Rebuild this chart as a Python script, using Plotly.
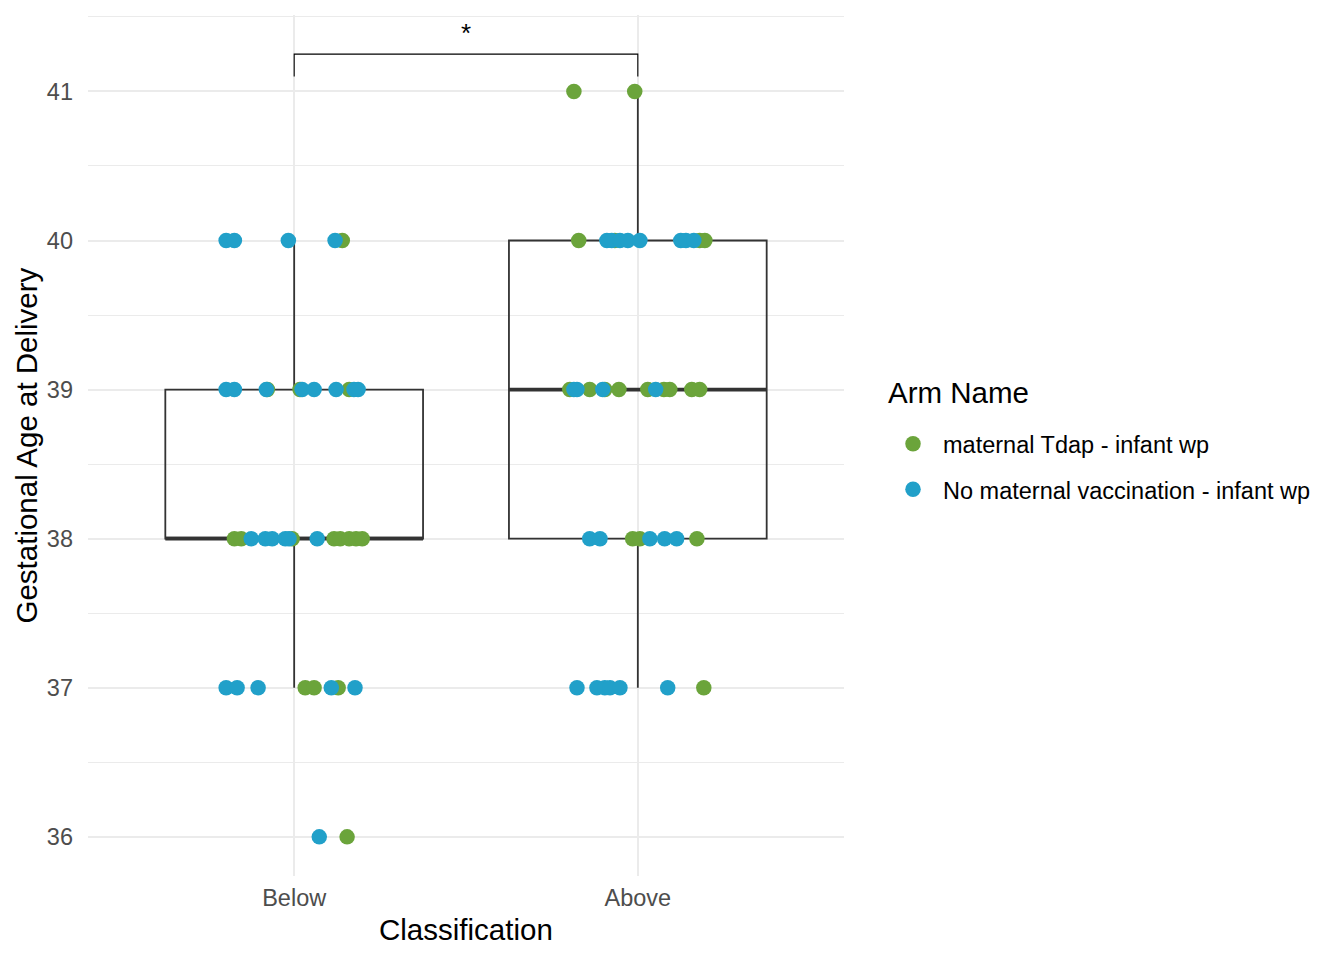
import plotly.graph_objects as go

categories = ["Below", "Above"]
arm_names = ["maternal Tdap - infant wp", "No maternal vaccination - infant wp"]
arm_colors = ["#6BA43B", "#21A0C9"]

# Jittered points: (category index, gestational age, horizontal jitter)
tdap_cat = [0]*1 + [0]*3 + [0]*8 + [0]*3 + [0]*1 + [1]*2 + [1]*4 + [1]*9 + [1]*3 + [1]*1
tdap_age = ([40] + [39]*3 + [38]*8 + [37]*3 + [36] +
            [41]*2 + [40]*4 + [39]*9 + [38]*3 + [37])
tdap_jit = [0.140,
            -0.078, 0.017, 0.160,
            -0.174, -0.154, -0.006, 0.116, 0.134, 0.160, 0.180, 0.198,
            0.032, 0.058, 0.128,
            0.154,
            -0.186, -0.009,
            -0.172, -0.067, 0.180, 0.195,
            -0.198, -0.140, -0.096, -0.055, 0.029, 0.076, 0.093, 0.157, 0.180,
            -0.015, 0.006, 0.172,
            0.192]

novac_cat = [0]*4 + [0]*8 + [0]*6 + [0]*5 + [0]*1 + [1]*8 + [1]*4 + [1]*5 + [1]*6
novac_age = ([40]*4 + [39]*8 + [38]*6 + [37]*5 + [36] +
             [40]*8 + [39]*4 + [38]*5 + [37]*6)
novac_jit = [-0.198, -0.174, -0.017, 0.119,
             -0.198, -0.174, -0.081, 0.023, 0.058, 0.122, 0.174, 0.186,
             -0.125, -0.084, -0.064, -0.026, -0.015, 0.067,
             -0.198, -0.166, -0.105, 0.108, 0.177,
             0.073,
             -0.090, -0.076, -0.052, -0.029, 0.006, 0.125, 0.140, 0.163,
             -0.186, -0.177, -0.102, 0.052,
             -0.140, -0.110, 0.035, 0.078, 0.113,
             -0.177, -0.119, -0.096, -0.081, -0.052, 0.087]

# Box statistics per category
box_q1 = [38, 38]
box_median = [38, 39]
box_q3 = [39, 40]
box_lower = [37, 37]
box_upper = [40, 41]

# Significance bracket
sig_label = "*"
sig_y = 41.25
sig_tip = 41.1

BOX_W = 0.75
FONT = "Liberation Sans, Arial, sans-serif"

fig = go.Figure()

for i in range(len(categories)):
    fig.add_trace(go.Box(
        x=[i], q1=[box_q1[i]], median=[box_median[i]], q3=[box_q3[i]],
        lowerfence=[box_lower[i]], upperfence=[box_upper[i]],
        width=BOX_W, whiskerwidth=0, boxpoints=False,
        fillcolor="rgba(255,255,255,0)",
        line=dict(color="#333333", width=1.8),
        showlegend=False, hoverinfo="skip"))
    fig.add_trace(go.Scatter(
        x=[i - BOX_W/2, i + BOX_W/2], y=[box_median[i]]*2,
        mode="lines", line=dict(color="#333333", width=3.8),
        showlegend=False, hoverinfo="skip"))

for k, (cats, ages, jit, name, color) in enumerate([
        (tdap_cat, tdap_age, tdap_jit, arm_names[0], arm_colors[0]),
        (novac_cat, novac_age, novac_jit, arm_names[1], arm_colors[1])]):
    fig.add_trace(go.Scatter(
        x=[c + j for c, j in zip(cats, jit)], y=ages,
        mode="markers", name=name, legendgroup=f"g{k}",
        marker=dict(color=color, size=15.5, line=dict(width=0))))

fig.add_trace(go.Scatter(
    x=[0, 0, 1, 1], y=[sig_tip, sig_y, sig_y, sig_tip],
    mode="lines", line=dict(color="black", width=1.1),
    showlegend=False, hoverinfo="skip"))
fig.add_annotation(x=0.5, y=sig_y, text=sig_label, showarrow=False,
                   yanchor="bottom", yshift=4,
                   font=dict(size=26, color="black", family=FONT))

# axis titles and legend title
fig.add_annotation(xref="paper", yref="paper", x=0.5, y=-0.0627, yanchor="middle",
                   text="Classification", showarrow=False,
                   font=dict(size=29.5, color="black", family=FONT))
fig.add_annotation(xref="paper", yref="paper", x=-0.0807, xanchor="center",
                   y=0.5, yanchor="middle", textangle=-90,
                   text="Gestational Age at Delivery", showarrow=False,
                   font=dict(size=29.5, color="black", family=FONT))
fig.add_annotation(xref="paper", yref="paper", x=1.0555, xanchor="left",
                   y=0.5610, yanchor="middle",
                   text="Arm Name", showarrow=False,
                   font=dict(size=29.5, color="black", family=FONT))

fig.update_layout(
    width=1336, height=952,
    plot_bgcolor="white", paper_bgcolor="white",
    margin=dict(l=80, r=500, t=7, b=84, autoexpand=False),
    font=dict(family=FONT),
    legend=dict(
        font=dict(size=23.5, color="black"),
        x=1.0516, xanchor="left", y=0.475, yanchor="middle",
        itemsizing="trace", itemwidth=50, tracegroupgap=12,
        bgcolor="rgba(0,0,0,0)"),
)
fig.update_xaxes(
    range=[-0.6, 1.6], tickvals=[0, 1], ticktext=categories,
    showgrid=True, gridcolor="#EBEBEB", gridwidth=1.6,
    zeroline=False, showline=False, ticks="", automargin=False,
    ticklabelstandoff=5,
    tickfont=dict(size=23.5, color="#4D4D4D"))
fig.update_yaxes(
    range=[35.7375, 41.5125], tickvals=[36, 37, 38, 39, 40, 41],
    showgrid=True, gridcolor="#EBEBEB", gridwidth=1.6,
    minor=dict(dtick=0.5, tick0=35.5, showgrid=True, gridcolor="#EBEBEB", gridwidth=0.8),
    zeroline=False, showline=False, ticks="", automargin=False,
    ticklabelstandoff=14,
    tickfont=dict(size=23.5, color="#4D4D4D"))

fig.write_html("out.html")
